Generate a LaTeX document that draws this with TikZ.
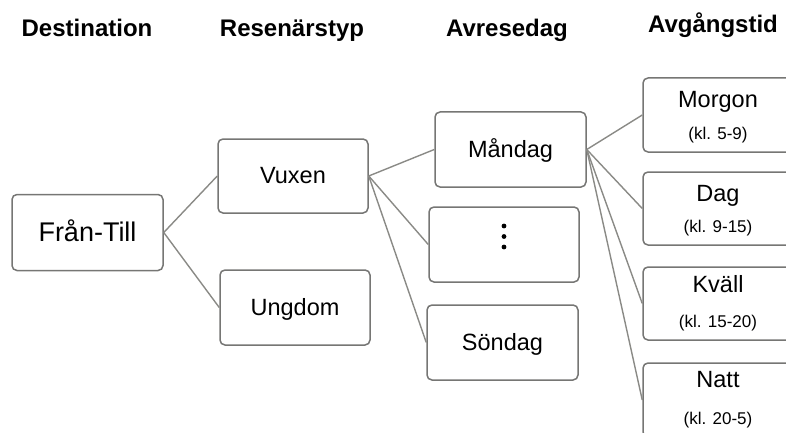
\documentclass[tikz,border=0pt]{standalone}
\usepackage{fontspec}
\setmainfont{Liberation Sans}
\usetikzlibrary{calc}
\definecolor{boxline}{HTML}{767674}
\definecolor{linkline}{HTML}{8A8A86}
\begin{document}
\begin{tikzpicture}[x=1pt,y=-1pt,
  box/.style={draw=boxline,line width=1.5pt,rounded corners=5pt,fill=white,
    minimum width=150pt,minimum height=74pt,inner sep=0pt},
  link/.style={draw=linkline,line width=1.4pt},
  head/.style={font=\fontsize{24}{28}\selectfont\bfseries,anchor=base,inner sep=0pt},
  main/.style={font=\fontsize{23.5}{28}\selectfont,anchor=base,inner sep=0pt},
  big/.style={font=\fontsize{27}{32}\selectfont,anchor=base,inner sep=0pt},
  sub/.style={font=\fontsize{17}{20}\selectfont,anchor=base,inner sep=0pt}]
\useasboundingbox (0,0) rectangle (786,433);
\clip (0,0) rectangle (786,433);

% column headings
\node[head] (h1) at (87,37) {Destination};
\node[head] (h2) at (292,37) {Resenärstyp};
\node[head] (h3) at (507,37) {Avresedag};
\node[head] (h4) at (713,33) {Avgångstid};

% boxes
\node[box,minimum width=151pt,minimum height=76pt] (ft) at (87.5,232.5) {};
\node[box] (vux) at (293,176) {};
\node[box,minimum height=75pt] (ung) at (295,307.5) {};
\node[box,minimum width=151pt,minimum height=75pt] (man) at (510.5,149.5) {};
\node[box,minimum height=75pt] (dts) at (504,244.5) {};
\node[box,minimum width=151pt,minimum height=75pt] (son) at (502.5,342.5) {};
\node[box] (mor) at (718,115) {};
\node[box,minimum height=73pt] (dag) at (718,208.5) {};
\node[box,minimum height=73pt] (kva) at (718,303.5) {};
\node[box] (nat) at (718,400) {};

% connectors
\draw[link] (ft.east) -- (vux.west);
\draw[link] (ft.east) -- (ung.west);
\foreach \t in {man,dts,son} \draw[link] (vux.east) -- (\t.west);
\foreach \t in {mor,dag,kva,nat} \draw[link] (man.east) -- (\t.west);

% box labels
\node[big] (tft) at ($(ft.center)+(0,8.5)$) {Från-Till};
\node[main] (tvux) at ($(vux.center)+(0,7.5)$) {Vuxen};
\node[main] (tung) at ($(ung.center)+(0,7.5)$) {Ungdom};
\node[main] (tman) at ($(man.center)+(0,7.5)$) {Måndag};
\node[main] (tson) at ($(son.center)+(0,7.5)$) {Söndag};
\foreach \k in {0,1,2}
  \fill ($(dts.center)+(0,-18.5+10.5*\k)$) circle (2.4pt);

\node[main] (tmor) at ($(mor.north)+(0,30)$) {Morgon};
\node[sub] (smor) at ($(mor.north)+(0,62)$) {(kl. 5-9)};
\node[main] (tdag) at ($(dag.north)+(0,30)$) {Dag};
\node[sub] (sdag) at ($(dag.north)+(0,61)$) {(kl. 9-15)};
\node[main] (tkva) at ($(kva.north)+(0,26)$) {Kväll};
\node[sub] (skva) at ($(kva.north)+(0,61)$) {(kl. 15-20)};
\node[main] (tnat) at ($(nat.north)+(0,25)$) {Natt};
\node[sub] (snat) at ($(nat.north)+(0,62)$) {(kl. 20-5)};
\end{tikzpicture}
\end{document}
